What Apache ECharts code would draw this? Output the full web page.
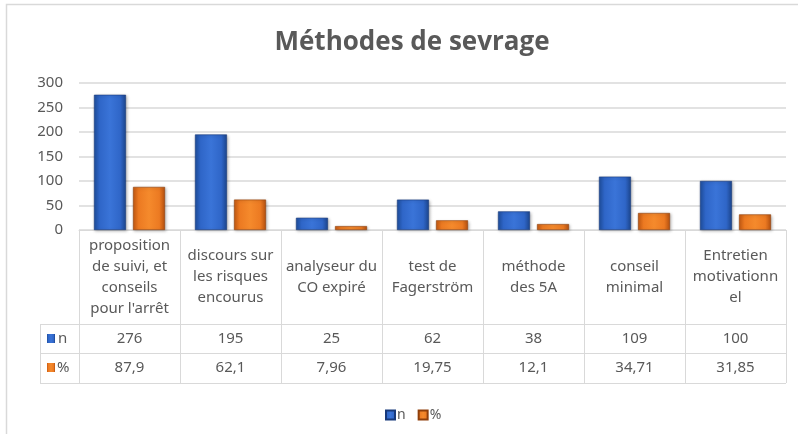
<!DOCTYPE html>
<html>
<head>
<meta charset="utf-8">
<script src="https://cdn.jsdelivr.net/npm/echarts@6/dist/echarts.min.js"></script>
<style>
    html, body { margin: 0; padding: 0; background: #fff; }
    #main { width: 798px; height: 434px; }
</style>
</head>
<body>
<div id="main"></div>
<script>
    // données du tableau
    var categories = [
        'proposition\nde suivi, et\nconseils\npour l\'arrêt',
        'discours sur\nles risques\nencourus',
        'analyseur du\nCO expiré',
        'test de\nFagerström',
        'méthode\ndes 5A',
        'conseil\nminimal',
        'Entretien\nmotivationn\nel'
    ];
    var nValues = [276, 195, 25, 62, 38, 109, 100];
    var pctValues = [87.9, 62.1, 7.96, 19.75, 12.1, 34.71, 31.85];
    var yTicks = [0, 50, 100, 150, 200, 250, 300];

    var txt = '#595959';
    var lineCol = '#d9d9d9';
    var font = 'Noto Sans';

    function frNum(v) { return String(v).replace('.', ','); }

    var blueFill = new echarts.graphic.LinearGradient(0, 0, 1, 0, [
        {offset: 0, color: '#1f4f9e'},
        {offset: 0.18, color: '#2f66c8'},
        {offset: 0.5, color: '#3a74d8'},
        {offset: 0.82, color: '#2f66c8'},
        {offset: 1, color: '#1c458c'}
    ]);
    var orangeFill = new echarts.graphic.LinearGradient(0, 0, 1, 0, [
        {offset: 0, color: '#c65a12'},
        {offset: 0.18, color: '#ec7a22'},
        {offset: 0.5, color: '#f58a2c'},
        {offset: 0.82, color: '#ec7a22'},
        {offset: 1, color: '#b4500f'}
    ]);

    var chart = echarts.init(document.getElementById('main'));
    var option = {
        animation: false,
        backgroundColor: '#fff',
        title: {
            text: 'Méthodes de sevrage',
            left: 407,
            textAlign: 'center',
            top: 25,
            textStyle: {fontFamily: 'Open Sans', fontWeight: 'bold', fontSize: 26, color: txt}
        },
        legend: {
            data: ['n', '%'],
            left: 380,
            top: 403,
            icon: 'rect',
            itemWidth: 9,
            itemHeight: 9,
            itemGap: 12,
            textStyle: {fontFamily: font, fontSize: 14, color: txt, padding: [0, 0, 0, -3]}
        },
        grid: {left: 79, right: 12, top: 83, bottom: 204},
        xAxis: [
            {
                type: 'category',
                data: categories,
                axisLine: {lineStyle: {color: lineCol, width: 1}},
                axisTick: {show: true, interval: 0, length: 153, lineStyle: {color: lineCol}},
                axisLabel: {
                    interval: 0, margin: 47, verticalAlign: 'middle', lineHeight: 21,
                    fontFamily: font, fontSize: 15, color: txt
                },
                splitLine: {show: false}
            },
            {
                type: 'category',
                data: nValues.map(String),
                position: 'bottom',
                offset: 94,
                axisLine: {show: false},
                axisTick: {show: false},
                axisLabel: {interval: 0, margin: 15, verticalAlign: 'middle', fontFamily: font, fontSize: 15, color: txt}
            },
            {
                type: 'category',
                data: pctValues.map(frNum),
                position: 'bottom',
                offset: 123,
                axisLine: {show: false},
                axisTick: {show: false},
                axisLabel: {interval: 0, margin: 15, verticalAlign: 'middle', fontFamily: font, fontSize: 15, color: txt}
            }
        ],
        yAxis: {
            type: 'value',
            min: yTicks[0],
            max: yTicks[yTicks.length - 1],
            interval: 50,
            axisLine: {show: false},
            axisTick: {show: false},
            axisLabel: {margin: 16, fontFamily: font, fontSize: 15, color: txt},
            splitLine: {lineStyle: {color: lineCol, width: 1.5}}
        },
        series: [
            {
                name: 'n',
                type: 'bar',
                data: nValues,
                barWidth: 32,
                barGap: '22%',
                itemStyle: {color: blueFill, borderColor: '#17397a', borderWidth: 0.6,
                    shadowColor: 'rgba(0,0,0,0.25)', shadowBlur: 3, shadowOffsetX: 1, shadowOffsetY: 1}
            },
            {
                name: '%',
                type: 'bar',
                data: pctValues,
                barWidth: 32,
                itemStyle: {color: orangeFill, borderColor: '#8f3f0b', borderWidth: 0.6,
                    shadowColor: 'rgba(0,0,0,0.25)', shadowBlur: 3, shadowOffsetX: 1, shadowOffsetY: 1}
            }
        ],
        graphic: [
            // cadre extérieur
            {type: 'rect', shape: {x: 6.5, y: 4.5, width: 830, height: 470}, style: {fill: null, stroke: lineCol, lineWidth: 1.5}, silent: true},
            // lignes du tableau
            {type: 'line', shape: {x1: 40, y1: 324.5, x2: 786, y2: 324.5}, style: {stroke: lineCol, lineWidth: 1}},
            {type: 'line', shape: {x1: 40, y1: 353.5, x2: 786, y2: 353.5}, style: {stroke: lineCol, lineWidth: 1}},
            {type: 'line', shape: {x1: 40, y1: 383.5, x2: 786, y2: 383.5}, style: {stroke: lineCol, lineWidth: 1}},
            {type: 'line', shape: {x1: 40.5, y1: 324, x2: 40.5, y2: 384}, style: {stroke: lineCol, lineWidth: 1}},
            // clés de légende du tableau
            {type: 'rect', shape: {x: 47, y: 334, width: 8, height: 9}, style: {fill: blueFill}},
            {type: 'text', x: 58, y: 339, style: {text: 'n', fontFamily: font, fontSize: 15, fill: txt, verticalAlign: 'middle'}},
            {type: 'rect', shape: {x: 47, y: 363, width: 8, height: 9}, style: {fill: orangeFill}},
            {type: 'text', x: 57, y: 368, style: {text: '%', fontFamily: font, fontSize: 15, fill: txt, verticalAlign: 'middle'}}
        ]
    };
    chart.setOption(option);
</script>
</body>
</html>
